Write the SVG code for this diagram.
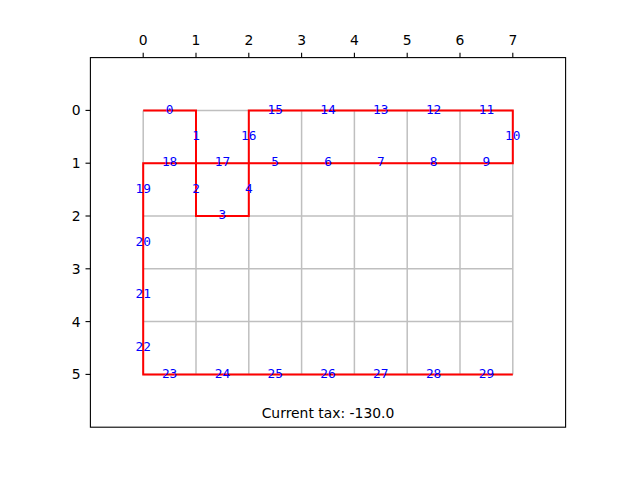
<svg xmlns="http://www.w3.org/2000/svg" width="640" height="480" viewBox="0 0 640 480">
<style>
.tick{stroke:#000;stroke-width:1.1}
.tl{font-family:"DejaVu Sans",sans-serif;font-size:13.9px;fill:#000}
.grid{stroke:#bfbfbf;stroke-width:1.5;fill:none}
.path{stroke:#ff0000;stroke-width:2;fill:none;stroke-linejoin:miter}
.lbl{font-family:"DejaVu Sans Mono",monospace;font-size:12.8px;fill:#0000ff;text-anchor:middle}
</style>
<rect width="640" height="480" fill="#fff"/>
<g id="axes">
<rect x="90.4" y="57.6" width="475.2" height="369.6" fill="#fff" stroke="#000" stroke-width="1.1"/>
<g class="tick">
<line x1="143.2" y1="57.6" x2="143.2" y2="52.7"/><line x1="196" y1="57.6" x2="196" y2="52.7"/><line x1="248.8" y1="57.6" x2="248.8" y2="52.7"/><line x1="301.6" y1="57.6" x2="301.6" y2="52.7"/><line x1="354.4" y1="57.6" x2="354.4" y2="52.7"/><line x1="407.2" y1="57.6" x2="407.2" y2="52.7"/><line x1="460" y1="57.6" x2="460" y2="52.7"/><line x1="512.8" y1="57.6" x2="512.8" y2="52.7"/>
<line x1="90.4" y1="110.4" x2="85.5" y2="110.4"/><line x1="90.4" y1="163.2" x2="85.5" y2="163.2"/><line x1="90.4" y1="216" x2="85.5" y2="216"/><line x1="90.4" y1="268.8" x2="85.5" y2="268.8"/><line x1="90.4" y1="321.6" x2="85.5" y2="321.6"/><line x1="90.4" y1="374.4" x2="85.5" y2="374.4"/>
</g>
<g class="tl" text-anchor="middle">
<text x="143.2" y="45">0</text><text x="196" y="45">1</text><text x="248.8" y="45">2</text><text x="301.6" y="45">3</text><text x="354.4" y="45">4</text><text x="407.2" y="45">5</text><text x="460" y="45">6</text><text x="512.8" y="45">7</text>
</g>
<g class="tl" text-anchor="end">
<text x="80.6" y="115.4">0</text><text x="80.6" y="168.2">1</text><text x="80.6" y="221">2</text><text x="80.6" y="273.8">3</text><text x="80.6" y="326.6">4</text><text x="80.6" y="379.4">5</text>
</g>
</g>
<g id="grid" class="grid">
<line x1="143.2" y1="110.4" x2="143.2" y2="374.4"/><line x1="196" y1="110.4" x2="196" y2="374.4"/><line x1="248.8" y1="110.4" x2="248.8" y2="374.4"/><line x1="301.6" y1="110.4" x2="301.6" y2="374.4"/><line x1="354.4" y1="110.4" x2="354.4" y2="374.4"/><line x1="407.2" y1="110.4" x2="407.2" y2="374.4"/><line x1="460" y1="110.4" x2="460" y2="374.4"/><line x1="512.8" y1="110.4" x2="512.8" y2="374.4"/>
<line x1="143.2" y1="110.4" x2="512.8" y2="110.4"/><line x1="143.2" y1="163.2" x2="512.8" y2="163.2"/><line x1="143.2" y1="216" x2="512.8" y2="216"/><line x1="143.2" y1="268.8" x2="512.8" y2="268.8"/><line x1="143.2" y1="321.6" x2="512.8" y2="321.6"/><line x1="143.2" y1="374.4" x2="512.8" y2="374.4"/>
</g>
<g id="connectors">
<polyline class="path" points="143.2,110.4 196,110.4 196,216 248.8,216 248.8,110.4 512.8,110.4 512.8,163.2 143.2,163.2 143.2,374.4 512.8,374.4"/>
</g>
<g id="labels" class="lbl">
<text x="169.6" y="113.5">0</text>
<text x="196" y="139.9">1</text>
<text x="196" y="192.7">2</text>
<text x="222.4" y="219.1">3</text>
<text x="248.8" y="192.7">4</text>
<text x="275.2" y="166.3">5</text>
<text x="328" y="166.3">6</text>
<text x="380.8" y="166.3">7</text>
<text x="433.6" y="166.3">8</text>
<text x="486.4" y="166.3">9</text>
<text x="512.8" y="139.9">10</text>
<text x="486.4" y="113.5">11</text>
<text x="433.6" y="113.5">12</text>
<text x="380.8" y="113.5">13</text>
<text x="328" y="113.5">14</text>
<text x="275.2" y="113.5">15</text>
<text x="248.8" y="139.9">16</text>
<text x="222.4" y="166.3">17</text>
<text x="169.6" y="166.3">18</text>
<text x="143.2" y="192.7">19</text>
<text x="143.2" y="245.5">20</text>
<text x="143.2" y="298.3">21</text>
<text x="143.2" y="351.1">22</text>
<text x="169.6" y="377.5">23</text>
<text x="222.4" y="377.5">24</text>
<text x="275.2" y="377.5">25</text>
<text x="328" y="377.5">26</text>
<text x="380.8" y="377.5">27</text>
<text x="433.6" y="377.5">28</text>
<text x="486.4" y="377.5">29</text>
</g>
<text id="tax" class="tl" x="328" y="417.7" text-anchor="middle">Current tax: -130.0</text>
</svg>
